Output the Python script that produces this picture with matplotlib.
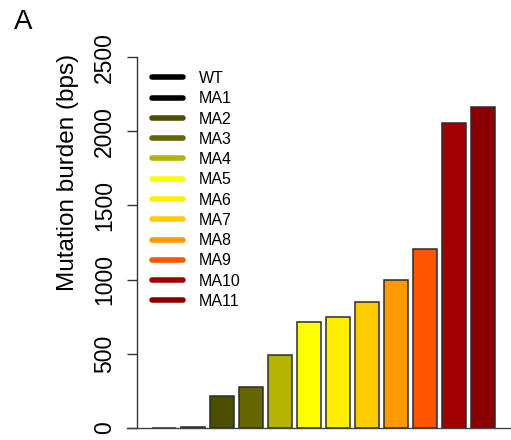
import matplotlib
matplotlib.use("Agg")
import matplotlib.pyplot as plt
from matplotlib.lines import Line2D
import numpy as np

plt.rcParams['font.family'] = ['Liberation Sans', 'DejaVu Sans']

# mutation burden per line (bps)
lines = ['WT', 'MA1', 'MA2', 'MA3', 'MA4', 'MA5', 'MA6', 'MA7', 'MA8', 'MA9', 'MA10', 'MA11']
burden = [0, 8, 214, 273, 491, 715, 747, 850, 995, 1204, 2054, 2167]
colors = ['#000000', '#000000', '#4d4d00', '#666600', '#b3b300', '#ffff00',
          '#ffee00', '#ffcc00', '#ff9900', '#ff5500', '#a00000', '#880000']
yticks = [0, 500, 1000, 1500, 2000, 2500]

W, H = 511, 440
fig = plt.figure(figsize=(W / 100, H / 100), dpi=100)
ax = fig.add_axes([137 / W, (H - 427.7) / H, (511 - 137) / W, (427.7 - 57.3) / H])

x = np.arange(len(lines))
ax.bar(x, burden, width=1 / 1.2, color=colors, edgecolor='#2b2b2b', linewidth=1.1, zorder=2)

ax.set_xlim(-0.923, 11.96)
ax.set_ylim(0, 2500)
for s in ('top', 'right', 'bottom'):
    ax.spines[s].set_visible(False)
ax.spines['left'].set_color('#333333')
ax.spines['left'].set_linewidth(1.0)
ax.set_xticks([])
ax.set_yticks(yticks)
ax.set_yticklabels([str(v) for v in yticks], rotation=90, va='center', fontsize=16.5)
ax.tick_params(axis='y', length=7.2, width=1.0, color='#333333', pad=8)
ax.set_ylabel('Mutation burden (bps)', fontsize=17.5)
ax.yaxis.set_label_coords(-0.155, 0.69)

# baseline runs out past the y axis ticks
ax.axhline(0, xmin=-10 / 374, xmax=1, color='#444444', lw=1.0, clip_on=False, zorder=3)

handles = [Line2D([], [], color=c, lw=4.0, solid_capstyle='round') for c in colors]
leg = ax.legend(handles, lines, loc='upper left', frameon=False, fontsize=11.5,
                bbox_to_anchor=(152 / W, 1 - 71 / H), bbox_transform=fig.transFigure,
                borderaxespad=0, borderpad=0, handlelength=1.95, handletextpad=1.0,
                labelspacing=0.33)

fig.text(14 / W, 1 - 29 / H, 'A', fontsize=20, va='baseline', ha='left')

fig.savefig('out.png', dpi=100)
